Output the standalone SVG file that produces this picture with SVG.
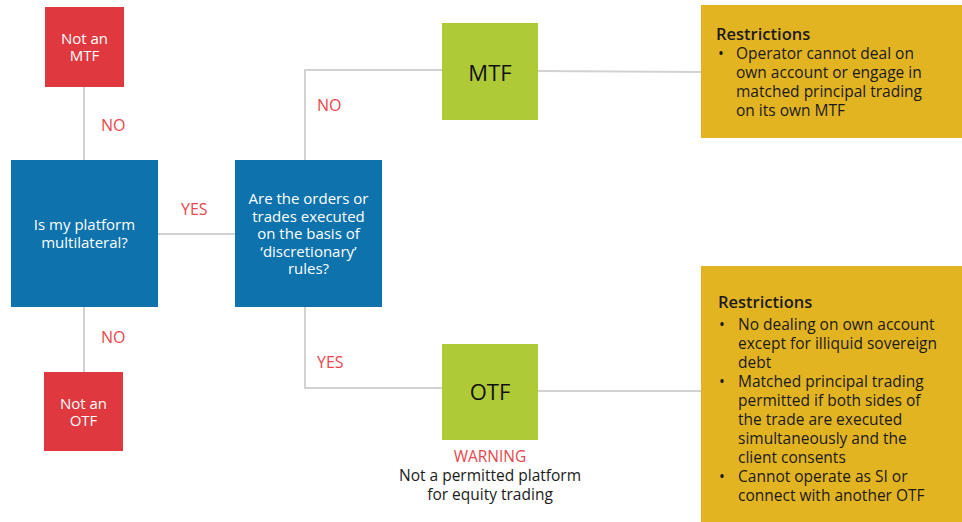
<svg xmlns="http://www.w3.org/2000/svg" width="962" height="522" viewBox="0 0 962 522">
<style>
text{font-family:"Open Sans","Noto Sans","Liberation Sans",sans-serif}
.red{fill:#E0383F}
.blue{fill:#0E72AD}
.green{fill:#AFCA37}
.yel{fill:#E3B422}
.wt{fill:#fff;font-size:15px;text-anchor:middle}
.lbl{fill:#E8474D;font-size:16px}
.bt{fill:#1a1a1a;font-size:15.5px}
.hd{font-size:16.5px;font-weight:600}
.con{stroke:#D2D2D2;stroke-width:2;fill:none}
</style>
<rect width="962" height="522" fill="#fff"/>
<g id="connectors">
<path class="con" d="M84 87V160"/>
<path class="con" d="M84 307V372"/>
<path class="con" d="M158 234H235"/>
<path class="con" d="M305 160V70H442"/>
<path class="con" d="M305 307V388H442"/>
<path class="con" d="M538 71L701 72"/>
<path class="con" d="M538 391L701 391"/>
<text class="lbl" x="101" y="131">NO</text>
<text class="lbl" x="101" y="343">NO</text>
<text class="lbl" x="181" y="215">YES</text>
<text class="lbl" x="317" y="111">NO</text>
<text class="lbl" x="317" y="368">YES</text>
</g>
<g id="notMTF">
<rect class="red" x="45" y="7" width="79" height="80"/>
<text class="wt" x="84.5" y="44">Not an<tspan x="84.5" dy="17">MTF</tspan></text>
</g>
<g id="notOTF">
<rect class="red" x="44" y="372" width="79" height="79"/>
<text class="wt" x="83.5" y="409">Not an<tspan x="83.5" dy="17">OTF</tspan></text>
</g>
<g id="q1">
<rect class="blue" x="11" y="160" width="147" height="147"/>
<text class="wt" x="84.5" y="230">Is my platform<tspan x="84.5" dy="18">multilateral?</tspan></text>
</g>
<g id="q2">
<rect class="blue" x="235" y="160" width="147" height="147"/>
<text class="wt" x="308.5" y="204">Are the orders or<tspan x="308.5" dy="17.5">trades executed</tspan><tspan x="308.5" dy="17.5">on the basis of</tspan><tspan x="308.5" dy="17.5">‘discretionary’</tspan><tspan x="308.5" dy="17.5">rules?</tspan></text>
</g>
<g id="mtf">
<rect class="green" x="442" y="23" width="96" height="97"/>
<text x="490" y="81" font-size="22" text-anchor="middle" fill="#111">MTF</text>
</g>
<g id="otf">
<rect class="green" x="442" y="344" width="96" height="96"/>
<text x="490" y="400" font-size="22" text-anchor="middle" fill="#111">OTF</text>
<text x="490" y="462" font-size="15.5" text-anchor="middle" fill="#E8474D">WARNING<tspan x="490" dy="19" fill="#1a1a1a">Not a permitted platform</tspan><tspan x="490" dy="19" fill="#1a1a1a">for equity trading</tspan></text>
</g>
<g id="restrMTF">
<rect class="yel" x="701" y="5" width="261" height="133"/>
<text class="bt" x="716" y="40"><tspan class="hd">Restrictions</tspan><tspan x="718" dy="19">•</tspan><tspan x="736">Operator cannot deal on</tspan><tspan x="736" dy="19">own account or engage in</tspan><tspan x="736" dy="19">matched principal trading</tspan><tspan x="736" dy="19">on its own MTF</tspan></text>
</g>
<g id="restrOTF">
<rect class="yel" x="701" y="266" width="261" height="256"/>
<text class="bt" x="718" y="308"><tspan class="hd">Restrictions</tspan><tspan x="719" dy="22">•</tspan><tspan x="738">No dealing on own account</tspan><tspan x="738" dy="19">except for illiquid sovereign</tspan><tspan x="738" dy="19">debt</tspan><tspan x="719" dy="19">•</tspan><tspan x="738">Matched principal trading</tspan><tspan x="738" dy="19">permitted if both sides of</tspan><tspan x="738" dy="19">the trade are executed</tspan><tspan x="738" dy="19">simultaneously and the</tspan><tspan x="738" dy="19">client consents</tspan><tspan x="719" dy="19">•</tspan><tspan x="738">Cannot operate as SI or</tspan><tspan x="738" dy="19">connect with another OTF</tspan></text>
</g>
</svg>
